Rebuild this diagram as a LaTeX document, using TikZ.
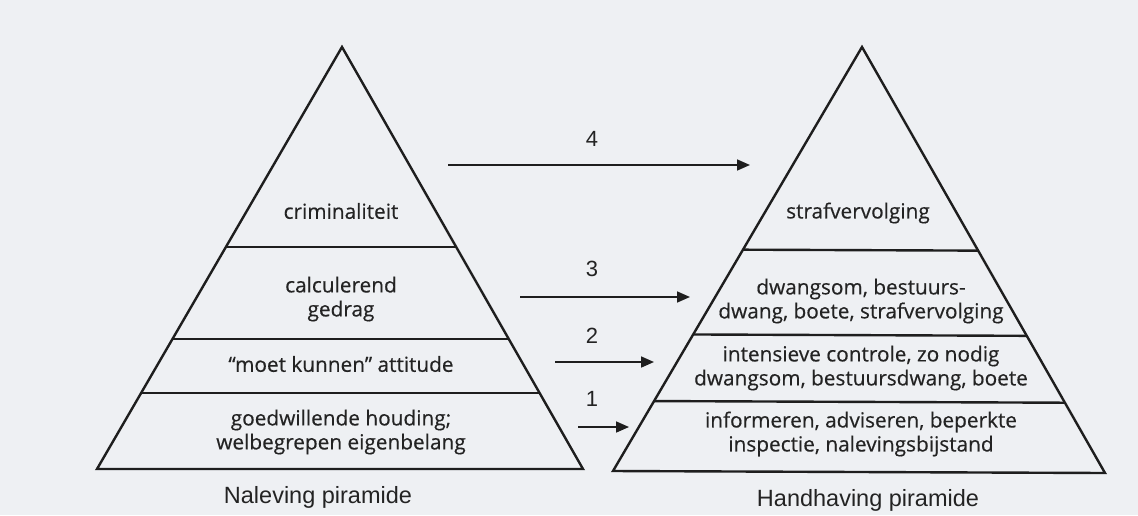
\documentclass[tikz,border=0pt]{standalone}
\usepackage{fontspec}
\setmainfont{Open Sans}
\newfontfamily\tierfont[FakeBold=0.4]{Open Sans}
\newfontfamily\labfont{Liberation Sans}
\usetikzlibrary{arrows.meta,calc}
\definecolor{bg}{RGB}{238,240,243}
\definecolor{ink}{RGB}{30,30,30}
\definecolor{txt}{RGB}{35,35,35}
\tikzset{
  pyr/.style={draw=ink,line width=2.4pt,line join=miter},
  divider/.style={draw=ink,line width=2.4pt},
  tier/.style={text=txt,font=\tierfont\fontsize{20.8}{24}\selectfont,align=center,inner sep=0pt},
  caption/.style={text=txt,font=\labfont\fontsize{23.5}{26}\selectfont,inner sep=0pt},
  num/.style={text=txt,font=\labfont\fontsize{22}{26}\selectfont,inner sep=0pt},
  conn/.style={draw=ink,line width=1.7pt,-{Triangle[length=13pt,width=11pt]}}
}
\begin{document}
\begin{tikzpicture}[x=1pt,y=-1pt]
\fill[bg] (0,0) rectangle (1138,515);
\useasboundingbox (0,0) rectangle (1138,515);
% left pyramid
\coordinate (LA) at (342,47);
\coordinate (LL) at (97,469);
\coordinate (LR) at (583,469);
\draw[pyr] (LA) -- (LL) -- (LR) -- cycle;
\draw[divider] ($(LA)!0.474!(LL)$) -- ($(LA)!0.474!(LR)$);
\draw[divider] ($(LA)!0.692!(LL)$) -- ($(LA)!0.692!(LR)$);
\draw[divider] ($(LA)!0.820!(LL)$) -- ($(LA)!0.820!(LR)$);
% right pyramid
\coordinate (RA) at (862,47);
\coordinate (RL) at (613,471);
\coordinate (RR) at (1105,473);
\draw[pyr] (RA) -- (RL) -- (RR) -- cycle;
\draw[divider] ($(RA)!0.478!(RL)$) -- ($(RA)!0.478!(RR)$);
\draw[divider] ($(RA)!0.678!(RL)$) -- ($(RA)!0.678!(RR)$);
\draw[divider] ($(RA)!0.835!(RL)$) -- ($(RA)!0.835!(RR)$);
% left texts
\node[tier] (l4) at (341,211) {criminaliteit};
\node[tier] (l3) at (341,299) {calculerend\\gedrag};
\node[tier] (l2) at (341,364) {“moet kunnen” attitude};
\node[tier] (l1) at (341,432) {goedwillende houding;\\welbegrepen eigenbelang};
\node[caption] (lc) at (318,497) {Naleving piramide};
% right texts
\node[tier] (r4) at (858,213) {strafvervolging};
\node[tier] (r3) at (861,301) {dwangsom, bestuurs-\\dwang, boete, strafvervolging};
\node[tier] (r2) at (861,368) {intensieve controle, zo nodig\\dwangsom, bestuursdwang, boete};
\node[tier] (r1) at (861,434) {informeren, adviseren, beperkte\\inspectie, nalevingsbijstand};
\node[caption] (rc) at (868,500) {Handhaving piramide};
% arrows
\coordinate (s4) at (448,165); \coordinate (e4) at (750,165);
\coordinate (s3) at (520,297); \coordinate (e3) at (690,297);
\coordinate (s2) at (555,362); \coordinate (e2) at (654,362);
\coordinate (s1) at (578,427); \coordinate (e1) at (629,427);
\draw[conn] (s4) -- (e4);
\draw[conn] (s3) -- (e3);
\draw[conn] (s2) -- (e2);
\draw[conn] (s1) -- (e1);
\node[num] (n4) at (592,139) {4};
\node[num] (n3) at (592,269) {3};
\node[num] (n2) at (592,336) {2};
\node[num] (n1) at (592,399) {1};
\end{tikzpicture}
\end{document}
